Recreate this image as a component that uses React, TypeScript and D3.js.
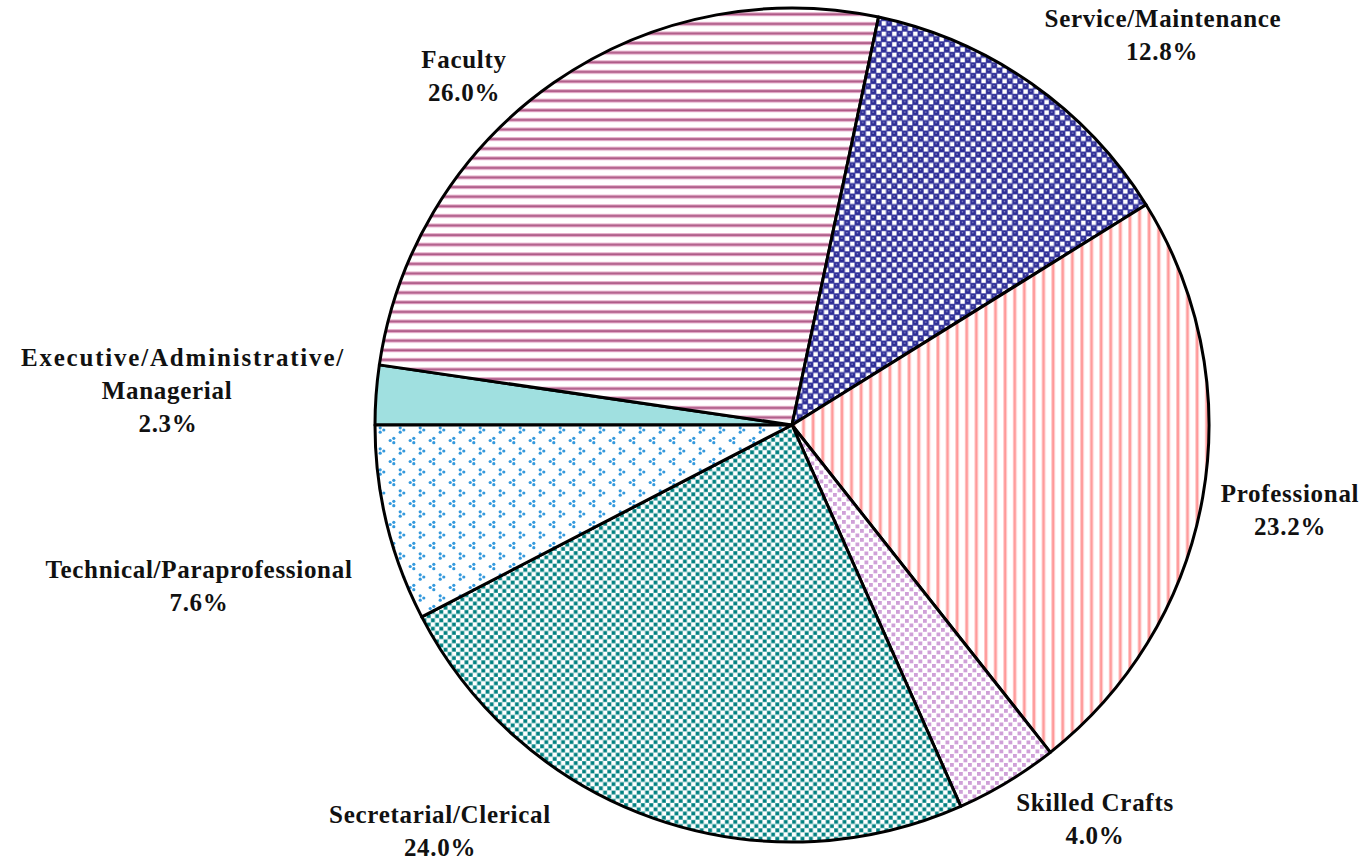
import React from 'react';
import * as d3 from 'd3';

// occupation categories, clockwise from 9 o'clock
const categories = [
  'Executive/Administrative/Managerial',
  'Faculty',
  'Service/Maintenance',
  'Professional',
  'Skilled Crafts',
  'Secretarial/Clerical',
  'Technical/Paraprofessional',
];
const shares = [2.3, 26.0, 12.8, 23.2, 4.0, 24.0, 7.6];

// label lines shown next to each slice
const labelLines = [
  ['Executive/Administrative/', 'Managerial', '2.3%'],
  ['Faculty', '26.0%'],
  ['Service/Maintenance', '12.8%'],
  ['Professional', '23.2%'],
  ['Skilled Crafts', '4.0%'],
  ['Secretarial/Clerical', '24.0%'],
  ['Technical/Paraprofessional', '7.6%'],
];

const W = 1368;
const H = 860;
const cx = 792;
const cy = 425;
const R = 417;

// label layout (first baseline, line x positions)
const labelLayout = [
  { y: 366, xs: [183, 167, 168] },
  { y: 68, xs: [464, 464] },
  { y: 27, xs: [1163, 1162] },
  { y: 502, xs: [1290, 1290] },
  { y: 811, xs: [1095, 1095] },
  { y: 823, xs: [440, 440] },
  { y: 578, xs: [199, 199] },
];

const fills = [
  '#a0e0e0',
  'url(#pFaculty)',
  'url(#pService)',
  'url(#pProf)',
  'url(#pSkilled)',
  'url(#pSecr)',
  'url(#pTech)',
];

const Patterns = () => (
  <defs>
    <pattern id="pFaculty" patternUnits="userSpaceOnUse" width="10" height="9.6">
      <rect width="10" height="9.6" fill="#fff" />
      <rect y="0" width="10" height="1.2" fill="#e8b4ce" />
      <rect y="1.2" width="10" height="1.6" fill="#a34477" />
      <rect y="2.8" width="10" height="1.2" fill="#dc9cbe" />
    </pattern>
    <pattern id="pService" patternUnits="userSpaceOnUse" width="10.5" height="10.5">
      <rect width="10.5" height="10.5" fill="#3b3ba0" />
      <rect x="0.4" y="0.4" width="4.4" height="4.4" fill="#fff" />
      <rect x="5.65" y="5.65" width="4.4" height="4.4" fill="#fff" />
      <circle cx="7.9" cy="2.6" r="2.4" fill="#2c2c94" />
      <circle cx="2.6" cy="7.9" r="2.4" fill="#2c2c94" />
      <rect x="7" y="1.5" width="1.4" height="1.1" fill="#a8a8e0" />
      <rect x="1.7" y="6.8" width="1.4" height="1.1" fill="#a8a8e0" />
    </pattern>
    <pattern id="pProf" patternUnits="userSpaceOnUse" width="9.6" height="10">
      <rect width="9.6" height="10" fill="#fff" />
      <rect x="0" width="1" height="10" fill="#ffc8c8" />
      <rect x="1" width="2" height="10" fill="#ff9999" />
      <rect x="3" width="1" height="10" fill="#ffc8c8" />
    </pattern>
    <pattern id="pSkilled" patternUnits="userSpaceOnUse" width="9" height="9">
      <rect width="9" height="9" fill="#fff" />
      <rect x="0.5" y="0.5" width="3.8" height="3.8" fill="#cfa0d8" />
      <rect x="5" y="5" width="3.8" height="3.8" fill="#cfa0d8" />
    </pattern>
    <pattern id="pSecr" patternUnits="userSpaceOnUse" width="8.4" height="8.4">
      <rect width="8.4" height="8.4" fill="#fff" />
      <rect x="0" y="0" width="4.2" height="4.2" fill="#66b2b2" />
      <rect x="4.2" y="4.2" width="4.2" height="4.2" fill="#66b2b2" />
      <rect x="0.5" y="0.5" width="3.2" height="3.2" fill="#008080" />
      <rect x="4.7" y="4.7" width="3.2" height="3.2" fill="#008080" />
    </pattern>
    <pattern id="pTech" patternUnits="userSpaceOnUse" width="20" height="21">
      <rect width="20" height="21" fill="#fff" />
      {[[10, 5, 1], [0, 15.5, -1], [20, 15.5, -1]].map(([x, y, dir], i) => (
        <g key={i} fill="#3399dd">
          <circle cx={x - 1.8 * dir} cy={y - 2.2} r="1.6" />
          <circle cx={x + 1.8 * dir} cy={y} r="1.6" />
          <circle cx={x - 1.8 * dir} cy={y + 2.2} r="1.6" />
        </g>
      ))}
    </pattern>
  </defs>
);

export default function App() {
  const pie = d3
    .pie<number>()
    .sort(null)
    .startAngle(Math.PI * 1.5)
    .endAngle(Math.PI * 3.5);
  const arcs = pie(shares);
  const arc = d3.arc<d3.PieArcDatum<number>>().innerRadius(0).outerRadius(R);

  return (
    <svg
      width={W}
      height={H}
      style={{ position: 'absolute', left: 0, top: 0, background: '#fff' }}
    >
      <Patterns />
      <g transform={`translate(${cx},${cy})`}>
        {arcs.map((a, i) => (
          <path
            key={categories[i]}
            d={arc(a) || ''}
            fill={fills[i]}
            stroke="#000"
            strokeWidth={3}
            strokeLinejoin="round"
          />
        ))}
      </g>
      <g
        fontFamily="'Liberation Serif', 'DejaVu Serif', serif"
        fontWeight="bold"
        fontSize={25}
        letterSpacing={0.7}
        textAnchor="middle"
        fill="#111"
      >
        {labelLines.map((lines, i) =>
          lines.map((t, j) => (
            <text
              key={`${i}-${j}`}
              x={labelLayout[i].xs[j]}
              y={labelLayout[i].y + j * 33}
              letterSpacing={i === 0 && j === 0 ? 1.8 : undefined}
            >
              {t}
            </text>
          ))
        )}
      </g>
    </svg>
  );
}
